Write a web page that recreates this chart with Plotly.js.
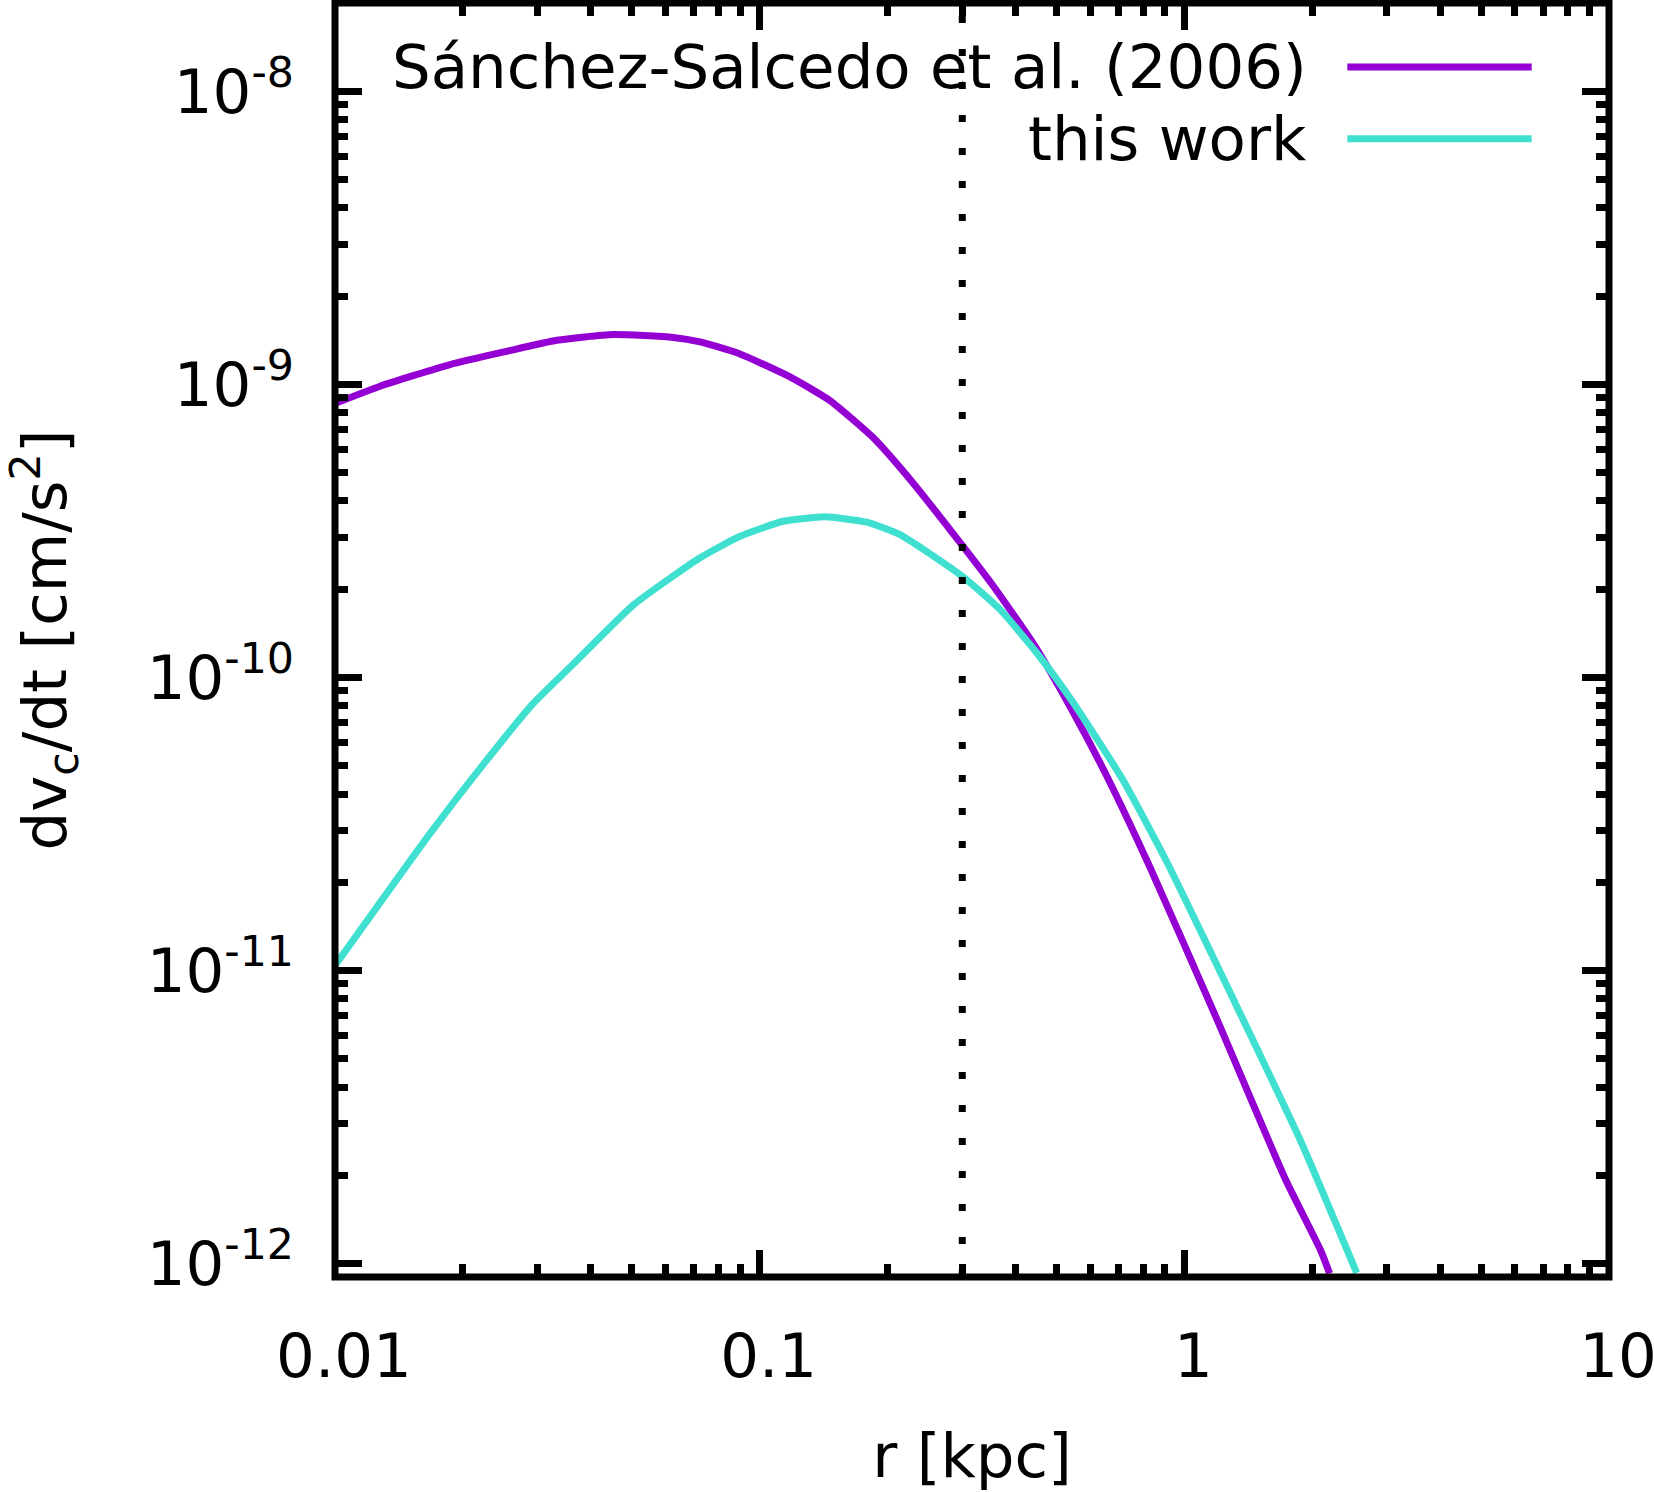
<!DOCTYPE html>
<html>
<head>
<meta charset="utf-8">
<script src="https://cdn.plot.ly/plotly-3.0.1.min.js"></script>
<style>
  html, body { margin: 0; padding: 0; background: #fff; }
  #plot { width: 1654px; height: 1492px; }
</style>
</head>
<body>
<div id="plot"></div>
<script>
// radius [kpc] and dv_c/dt [cm/s^2]
var rSanchez = [0.01, 0.01276, 0.01866, 0.02537, 0.03327, 0.0452, 0.0626, 0.0724, 0.0899, 0.1179, 0.1464, 0.1852, 0.2299, 0.300, 0.3549, 0.4449, 0.5477, 0.6565, 0.830, 1.19, 1.73, 2.096, 2.198];
var aSanchez = [8.6e-10, 9.85e-10, 1.168e-9, 1.296e-9, 1.413e-9, 1.478e-9, 1.445e-9, 1.395e-9, 1.27e-9, 1.06e-9, 8.8e-10, 6.57e-10, 4.6e-10, 2.82e-10, 2.05e-10, 1.278e-10, 7.59e-11, 4.61e-11, 2.25e-11, 6.88e-12, 1.94e-12, 1.106e-12, 9.26e-13];

var rThisWork = [0.01, 0.0167, 0.0222, 0.0294, 0.0363, 0.0505, 0.0724, 0.0899, 0.1137, 0.1425, 0.1786, 0.214, 0.300, 0.368, 0.449, 0.5477, 0.718, 0.909, 1.30, 1.87, 2.546];
var aThisWork = [1.04e-11, 2.92e-11, 4.99e-11, 8.2e-11, 1.107e-10, 1.77e-10, 2.56e-10, 3.03e-10, 3.41e-10, 3.53e-10, 3.385e-10, 3.07e-10, 2.215e-10, 1.706e-10, 1.214e-10, 8.2e-11, 4.45e-11, 2.35e-11, 8.06e-12, 2.66e-12, 9.3e-13];

var seriesNames = ['Sánchez-Salcedo et al. (2006)', 'this work'];
var seriesColors = ['#9400d3', '#40e0d0'];

// vertical marker radius [kpc]
var rMark = 0.3;

// axis ticks
var xTickVals = [0.01, 0.1, 1, 10];
var xTickText = ['0.01', '0.1', '1', '10'];
var xMinorVals = [0.02, 0.03, 0.04, 0.05, 0.06, 0.07, 0.08, 0.09,
                  0.2, 0.3, 0.4, 0.5, 0.6, 0.7, 0.8, 0.9,
                  2, 3, 4, 5, 6, 7, 8, 9];
var yTickVals = [1e-12, 1e-11, 1e-10, 1e-9, 1e-8];
var yTickText = ['10<sup>-12</sup>', '10<sup>-11</sup>', '10<sup>-10</sup>', '10<sup>-9</sup>', '10<sup>-8</sup>'];
var yMinorVals = [];
[-13, -12, -11, -10, -9, -8].forEach(function(e) {
  for (var m = 2; m <= 9; m++) yMinorVals.push(m * Math.pow(10, e));
});

var FONT = 'DejaVu Sans, sans-serif';
var FS = 61;

var traces = [
  {x: rSanchez, y: aSanchez, name: seriesNames[0], type: 'scatter', mode: 'lines',
   line: {color: seriesColors[0], width: 7, shape: 'spline', smoothing: 0.5}},
  {x: rThisWork, y: aThisWork, name: seriesNames[1], type: 'scatter', mode: 'lines',
   line: {color: seriesColors[1], width: 7, shape: 'spline', smoothing: 0.5}}
];

function axisBase() {
  return {
    type: 'log',
    showline: false,
    showgrid: false,
    zeroline: false,
    ticks: 'inside',
    ticklen: 27,
    tickwidth: 7,
    tickcolor: '#000',
    mirror: 'ticks',
    tickmode: 'array',
    ticklabeloverflow: 'allow',
    tickfont: {family: FONT, size: FS, color: '#000'}
  };
}

var xaxis = axisBase();
xaxis.range = [-2, 1];
xaxis.tickvals = xTickVals;
xaxis.ticktext = xTickText;
xaxis.ticklabelstandoff = 38;
xaxis.ticklabelshift = 9;
xaxis.minor = {tickmode: 'array', tickvals: xMinorVals, ticks: 'inside', ticklen: 13, tickwidth: 7, tickcolor: '#000', showgrid: false};
xaxis.title = {text: 'r [kpc]', font: {family: FONT, size: FS, color: '#000'}, standoff: 44};

var yaxis = axisBase();
yaxis.range = [Math.log10(9e-13), Math.log10(2e-8)];
yaxis.tickvals = yTickVals;
yaxis.ticktext = yTickText;
yaxis.ticklabelstandoff = 40;
yaxis.minor = {tickmode: 'array', tickvals: yMinorVals, ticks: 'inside', ticklen: 13, tickwidth: 7, tickcolor: '#000', showgrid: false};
yaxis.title = {text: 'dv<sub>c</sub>/dt [cm/s<sup>2</sup>]', font: {family: FONT, size: FS, color: '#000'}, standoff: 68};

// legend drawn gnuplot-style: text right-aligned, sample line on the right
var legendY = [0.9498, 0.8935];
var shapes = [
  {type: 'line', xref: 'x', yref: 'paper', x0: rMark, x1: rMark, y0: 0, y1: 1,
   line: {color: '#000', width: 7, dash: '7px,26px'}, layer: 'above'},
  {type: 'rect', xref: 'paper', yref: 'paper', x0: 0, x1: 1, y0: 0, y1: 1,
   line: {color: '#000', width: 7}, layer: 'above'}
];
var annotations = [];
seriesNames.forEach(function(n, i) {
  shapes.push({type: 'line', xref: 'paper', yref: 'paper', x0: 0.7946, x1: 0.9393,
    y0: legendY[i], y1: legendY[i], line: {color: seriesColors[i], width: 7}});
  annotations.push({xref: 'paper', yref: 'paper', x: 0.7645, y: legendY[i],
    xanchor: 'right', yanchor: 'middle', showarrow: false, text: n,
    font: {family: FONT, size: FS, color: '#000'}});
});

var layout = {
  width: 1654,
  height: 1492,
  margin: {l: 335, r: 45, t: 3, b: 215},
  paper_bgcolor: '#fff',
  plot_bgcolor: '#fff',
  showlegend: false,
  font: {family: FONT, size: FS, color: '#000'},
  xaxis: xaxis,
  yaxis: yaxis,
  shapes: shapes,
  annotations: annotations
};

Plotly.newPlot('plot', traces, layout, {staticPlot: true});
</script>
</body>
</html>
